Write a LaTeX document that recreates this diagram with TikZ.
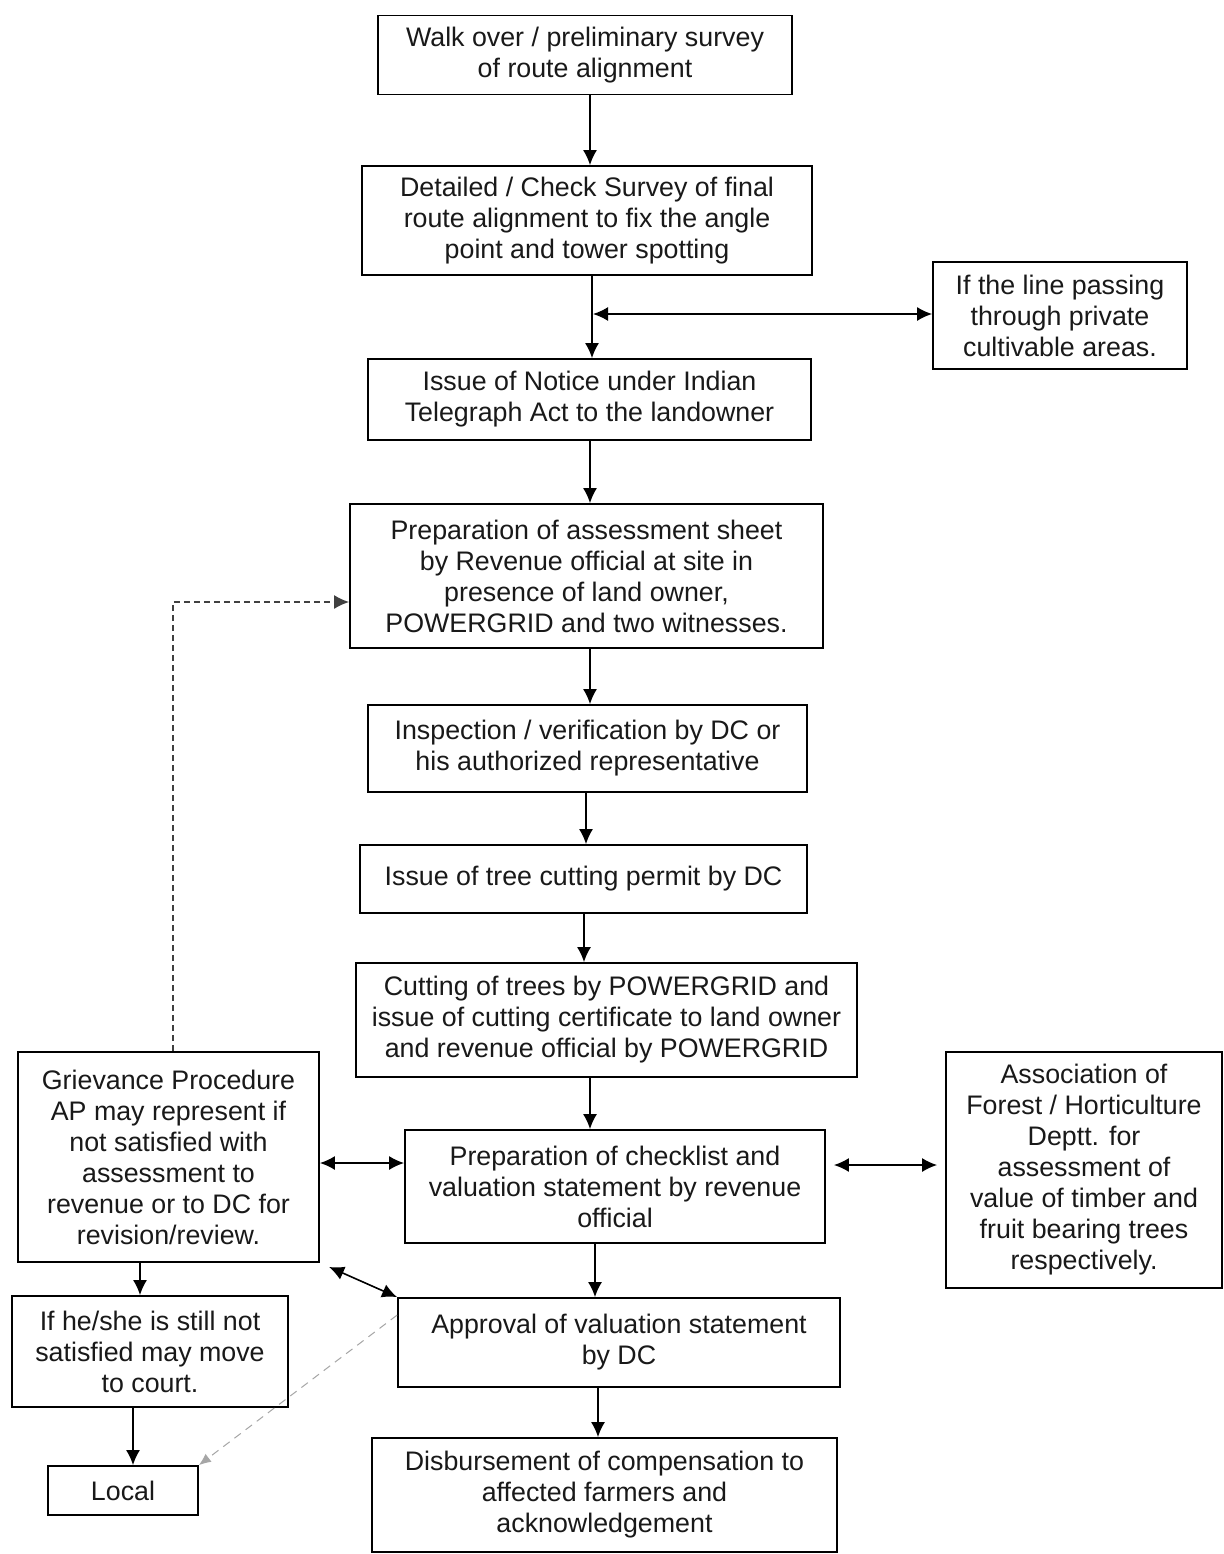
\documentclass[tikz,border=0pt]{standalone}
\usepackage{fontspec}
\setmainfont{Liberation Sans}
\usetikzlibrary{arrows.meta,calc}
\begin{document}
\begin{tikzpicture}[x=0.5pt,y=-0.5pt,
  box/.style={draw=black,line width=0.9pt,align=center,inner sep=0pt,
    font=\fontsize{13.4pt}{15.5pt}\selectfont,text=black!90},
  arr/.style={line width=0.8pt,-{Latex[length=7.5pt,width=7pt]}},
  darr/.style={line width=0.8pt,{Latex[length=7.5pt,width=7pt]}-{Latex[length=7.5pt,width=7pt]}},
  dotarr/.style={line width=0.8pt,black!75,dash pattern=on 3pt off 2pt,-{Latex[length=7.5pt,width=7pt]}},
  grayarr/.style={line width=0.5pt,black!35,dash pattern=on 4pt off 3pt,-{Latex[length=6pt,width=5pt]}}]
\useasboundingbox (0,0) rectangle (1224,1554);
\fill[white] (0,0) rectangle (1224,1554);

\node[box,minimum width=207pt,minimum height=39.5pt] (n1) at (585,55)
  {Walk over / preliminary survey\\of route alignment};
\node[box,minimum width=225pt,minimum height=54.5pt] (n2) at (587,220.5)
  {Detailed / Check Survey of final\\route alignment to fix the angle\\point and tower spotting};
\node[box,minimum width=127pt,minimum height=53.5pt] (n3) at (1060,315.5)
  {If the line passing\\through private\\cultivable areas.};
\node[box,minimum width=221.5pt,minimum height=40.5pt] (n4) at (589.5,399.5)
  {Issue of Notice under Indian\\Telegraph Act to the landowner};
\node[box,minimum width=236.5pt,minimum height=72pt] (n5) at (586.5,576)
  {Preparation of assessment sheet\\by Revenue official at site in\\presence of land owner,\\POWERGRID and two witnesses.};
\node[box,minimum width=219.5pt,minimum height=43.5pt] (n6) at (587.5,748.5)
  {Inspection / verification by DC or\\his authorized representative};
\node[box,minimum width=223.5pt,minimum height=34pt] (n7) at (583.5,879)
  {Issue of tree cutting permit by DC};
\node[box,minimum width=250.5pt,minimum height=57pt] (n8) at (606.5,1020)
  {Cutting of trees by POWERGRID and\\issue of cutting certificate to land owner\\and revenue official by POWERGRID};
\node[box,minimum width=150.5pt,minimum height=105pt] (n9) at (168.5,1157)
  {Grievance Procedure\\AP may represent if\\not satisfied with\\assessment to\\revenue or to DC for\\revision/review.};
\node[box,minimum width=138pt,minimum height=118pt] (n10) at (1084,1170)
  {Association of\\Forest / Horticulture\\Deptt. for\\assessment of\\value of timber and\\fruit bearing trees\\respectively.};
\node[box,minimum width=210pt,minimum height=56.5pt] (n11) at (615,1186.5)
  {Preparation of checklist and\\valuation statement by revenue\\official};
\node[box,minimum width=221pt,minimum height=44.5pt] (n12) at (619,1342.5)
  {Approval of valuation statement\\by DC};
\node[box,minimum width=138pt,minimum height=55.5pt] (n13) at (150,1351.5)
  {If he/she is still not\\satisfied may move\\to court.};
\node[box,minimum width=75pt,minimum height=24.5pt] (n14) at (123,1490.5)
  {Local};
\node[box,minimum width=232.5pt,minimum height=57pt] (n15) at (604.5,1495)
  {Disbursement of compensation to\\affected farmers and\\acknowledgement};

% main chain
\coordinate (x1) at (590,0);
\coordinate (x2) at (592,0);
\coordinate (x3) at (590,0);
\coordinate (x4) at (590,0);
\coordinate (x5) at (586,0);
\coordinate (x6) at (584,0);
\coordinate (x7) at (590,0);
\coordinate (x8) at (595,0);
\coordinate (x9) at (598,0);
\draw[arr] (n1.south -| x1) -- (n2.north -| x1);
\draw[arr] (n2.south -| x2) -- (n4.north -| x2);
\draw[arr] (n4.south -| x3) -- (n5.north -| x3);
\draw[arr] (n5.south -| x4) -- (n6.north -| x4);
\draw[arr] (n6.south -| x5) -- (n7.north -| x5);
\draw[arr] (n7.south -| x6) -- (n8.north -| x6);
\draw[arr] (n8.south -| x7) -- (n11.north -| x7);
\draw[arr] (n11.south -| x8) -- (n12.north -| x8);
\draw[arr] (n12.south -| x9) -- (n15.north -| x9);

% side connectors
\coordinate (j) at (593,314);
\draw[darr] (j) -- (j -| n3.west);
\coordinate (r1) at (0,1163);
\draw[darr] (r1 -| n9.east) -- (r1 -| n11.west);
\coordinate (r2) at (0,1165);
\draw[darr,shorten <=4pt,shorten >=4pt] (r2 -| n11.east) -- (r2 -| n10.west);
\draw[darr,shorten <=5pt] (n9.south east) -- (n12.north west);

% left column
\coordinate (l1) at (140,0);
\coordinate (l2) at (133,0);
\draw[arr] (n9.south -| l1) -- (n13.north -| l1);
\draw[arr] (n13.south -| l2) -- (n14.north -| l2);
\draw[grayarr] ($(n12.north west)+(0,18)$) -- (n14.north east);

% dashed feedback loop
\coordinate (d) at (173,602);
\draw[dotarr] (d |- n9.north) -- (d) -- (d -| n5.west);
\end{tikzpicture}
\end{document}
